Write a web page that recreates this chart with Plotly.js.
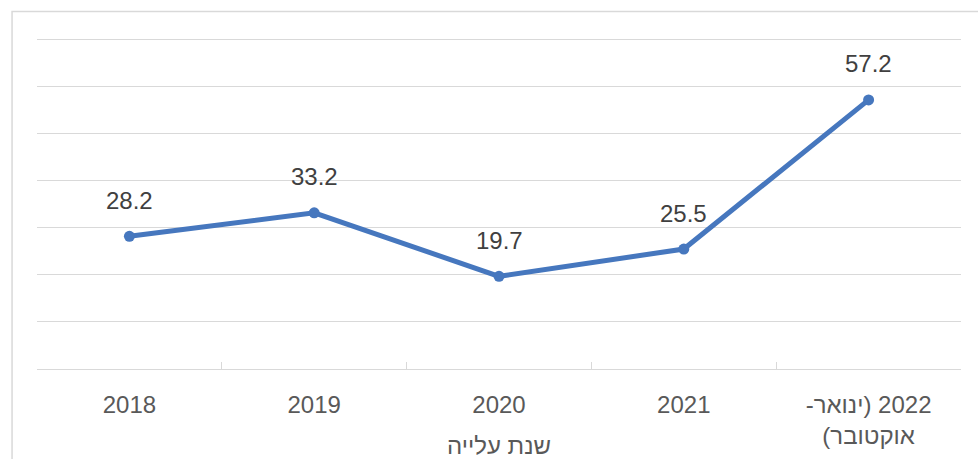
<!DOCTYPE html>
<html>
<head>
<meta charset="utf-8">
<script src="https://cdn.plot.ly/plotly-3.0.1.min.js"></script>
<style>
html,body{margin:0;padding:0;background:#fff;overflow:hidden;}
#chart{width:978px;height:459px;}
</style>
</head>
<body>
<div id="chart"></div>
<script>
const RLM = '\u200F';
const categories = ['2018', '2019', '2020', '2021', '2022'];
const tickLabels = ['2018', '2019', '2020', '2021',
  RLM + '2022 (ינואר-' + RLM + '<br>' + RLM + 'אוקטובר)' + RLM];
const values = [28.2, 33.2, 19.7, 25.5, 57.2];
const valueLabels = ['28.2', '33.2', '19.7', '25.5', '57.2'];
const gridValues = [10, 20, 30, 40, 50, 60, 70];
const axisTitle = 'שנת עלייה';

const blue = '#4677BE';
const fontFam = 'Liberation Sans, Arial, sans-serif';

const trace = {
  x: categories,
  y: values,
  type: 'scatter',
  mode: 'lines+markers',
  line: {color: blue, width: 5},
  marker: {color: blue, size: 11},
  hoverinfo: 'none'
};

const annotations = categories.map((c, i) => ({
  x: i, y: values[i], xref: 'x', yref: 'y',
  text: valueLabels[i], showarrow: false,
  yanchor: 'middle', yshift: 36,
  font: {family: fontFam, size: 24, color: '#404040'}
}));

const layout = {
  width: 978, height: 459,
  margin: {l: 37, r: 17, t: 35, b: 90},
  paper_bgcolor: '#fff', plot_bgcolor: '#fff',
  showlegend: false,
  xaxis: {
    type: 'category',
    categoryarray: categories,
    tickvals: categories,
    ticktext: tickLabels,
    range: [-0.5, 4.5],
    tickson: 'boundaries',
    ticks: 'inside', ticklen: 7, tickcolor: '#d9d9d9', tickwidth: 1,
    showgrid: false,
    showline: true, linecolor: '#d9d9d9', linewidth: 1,
    tickfont: {family: fontFam, size: 24, color: '#595959'},
    ticklabelstandoff: 14,
    title: {text: axisTitle, font: {family: fontFam, size: 24, color: '#595959'}, standoff: 0},
    fixedrange: true
  },
  yaxis: {
    range: [0, 71],
    tickvals: gridValues,
    showgrid: true, gridcolor: '#d9d9d9', gridwidth: 1,
    zeroline: false,
    showticklabels: false,
    ticks: '',
    showline: false,
    fixedrange: true
  },
  annotations: annotations,
  shapes: [{
    type: 'rect', xref: 'paper', yref: 'paper',
    x0: -0.027, x1: 1.2, y0: -0.5, y1: 1.07,
    line: {color: '#d9d9d9', width: 1.5}, fillcolor: 'rgba(0,0,0,0)', layer: 'below'
  }]
};

Plotly.newPlot('chart', [trace], layout, {displayModeBar: false});
</script>
</body>
</html>
